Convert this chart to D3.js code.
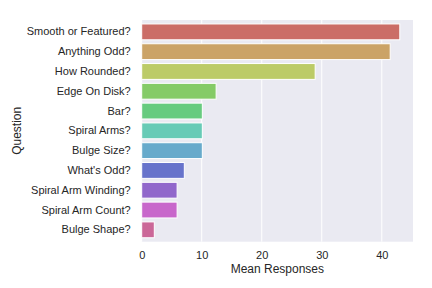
<!DOCTYPE html>
<html>
<head>
<meta charset="utf-8">
<script src="https://cdn.jsdelivr.net/npm/d3@7"></script>
<style>
  body { margin: 0; background: #fff; }
  text { font-family: "Liberation Sans", Arial, sans-serif; fill: #262626; }
</style>
</head>
<body>
<div id="chart"></div>
<script>
// data
var questions = ["Smooth or Featured?", "Anything Odd?", "How Rounded?", "Edge On Disk?",
	"Bar?", "Spiral Arms?", "Bulge Size?", "What's Odd?",
	"Spiral Arm Winding?", "Spiral Arm Count?", "Bulge Shape?"]
var meanResponses = [43.0, 41.4, 28.9, 12.4, 10.1, 10.1, 10.1, 7.1, 5.9, 5.9, 2.1]
var xTicks = [0, 10, 20, 30, 40]

var width = 432
var height = 288
var margin = {top: 20, right: 19, bottom: 46.3, left: 141.7}

var svg = d3.select("#chart")
	.append("svg")
	.attr("width", width)
	.attr("height", height)

var plotW = width - margin.left - margin.right
var plotH = height - margin.top - margin.bottom

var g = svg.append("g")
	.attr("transform", "translate(" + margin.left + "," + margin.top + ")")

var x = d3.scaleLinear()
	.domain([0, 45.2])
	.range([0, plotW])

var y = d3.scaleBand()
	.domain(questions)
	.range([0, plotH])
	.padding(0.2)

// seaborn hls palette, desaturated like barplot does
var color = function(i) {
	var h = (i / questions.length + 0.01) % 1
	return d3.hsl(h * 360, 0.65 * 0.75, 0.6).formatHex()
}

// background
g.append("rect")
	.attr("width", plotW)
	.attr("height", plotH)
	.style("fill", "#EAEAF2")

// grid lines
g.selectAll(".grid")
	.data(xTicks)
	.enter()
	.append("line")
	.attr("x1", function(d) { return x(d) })
	.attr("x2", function(d) { return x(d) })
	.attr("y1", 0)
	.attr("y2", plotH)
	.style("stroke", "white")
	.style("stroke-width", 1)

// bars
g.selectAll(".bar")
	.data(meanResponses)
	.enter()
	.append("rect")
	.attr("x", x(0))
	.attr("y", function(d, i) { return y(questions[i]) })
	.attr("width", function(d) { return x(d) - x(0) })
	.attr("height", y.bandwidth())
	.style("fill", function(d, i) { return color(i) })
	.style("stroke", "white")
	.style("stroke-width", 1)

// x axis
var xAxis = g.append("g")
	.attr("transform", "translate(0," + plotH + ")")
	.call(d3.axisBottom(x).tickValues(xTicks).tickSize(0).tickPadding(10))
xAxis.select(".domain").remove()
xAxis.selectAll("text")
	.style("font-size", "11px")
	.style("font-family", "Liberation Sans, Arial, sans-serif")
	.style("fill", "#262626")

// y axis
var yAxis = g.append("g")
	.call(d3.axisLeft(y).tickSize(0).tickPadding(11))
yAxis.select(".domain").remove()
yAxis.selectAll("text")
	.style("font-size", "11px")
	.style("font-family", "Liberation Sans, Arial, sans-serif")
	.style("fill", "#262626")

// axis labels
svg.append("text")
	.attr("x", margin.left + plotW / 2)
	.attr("y", 272.5)
	.attr("text-anchor", "middle")
	.style("font-size", "12px")
	.text("Mean Responses")

svg.append("text")
	.attr("transform", "translate(21," + (margin.top + plotH / 2) + ") rotate(-90)")
	.attr("text-anchor", "middle")
	.style("font-size", "12px")
	.text("Question")
</script>
</body>
</html>
